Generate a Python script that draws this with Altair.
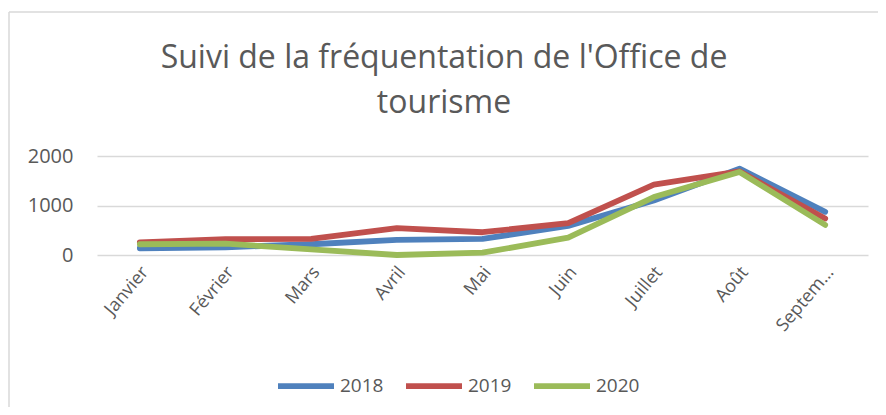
import altair as alt
import pandas as pd

months = ["Janvier", "Février", "Mars", "Avril", "Mai", "Juin", "Juillet", "Août", "Septembre"]
years = ["2018", "2019", "2020"]
v2018 = [136, 156, 217, 304, 325, 588, 1101, 1744, 872]
v2019 = [257, 318, 325, 541, 460, 643, 1420, 1690, 736]
v2020 = [217, 229, 115, 0, 47, 351, 1170, 1677, 608]
colors = ["#4F81BD", "#C0504D", "#9BBB59"]
y_ticks = [0, 1000, 2000]
title_lines = ["Suivi de la fréquentation de l'Office de", "tourisme"]

rows = []
for yr, vals in zip(years, [v2018, v2019, v2020]):
    for m, v in zip(months, vals):
        rows.append({"Mois": m, "Année": yr, "Visiteurs": v})
df = pd.DataFrame(rows)

FONT = "Open Sans"
TXT = "#595959"

lines = alt.Chart(df).mark_line(strokeWidth=5.8, strokeCap="round", strokeJoin="round").encode(
    x=alt.X("Mois:N", sort=months, title=None,
            axis=alt.Axis(labelAngle=-50, labelAlign="right", labelBaseline="middle",
                          labelFontSize=18, labelColor=TXT, labelFont=FONT, labelPadding=14,
                          labelOffset=5, labelLimit=82, ticks=False, domain=False, grid=False)),
    y=alt.Y("Visiteurs:Q", scale=alt.Scale(domain=[0, 2000], nice=False), title=None,
            axis=alt.Axis(values=y_ticks, format="d", ticks=False, domain=False, gridColor="#d9d9d9",
                          gridWidth=1.3, labelFontSize=20, labelColor=TXT, labelPadding=24,
                          labelFont=FONT)),
    color=alt.Color("Année:N", scale=alt.Scale(domain=years, range=colors),
                    legend=alt.Legend(title=None, orient="none", legendX=178, legendY=199,
                                      direction="horizontal", symbolType="stroke",
                                      symbolSize=3136, symbolStrokeWidth=5.8,
                                      labelFontSize=19, labelFont=FONT, labelColor=TXT,
                                      columnPadding=10, labelOffset=3)),
)

one = alt.Data(values=[{}])
border_left = alt.Chart(one).mark_rule(color="#d9d9d9", strokeWidth=1.5).encode(
    x=alt.value(-88), y=alt.value(-144), y2=alt.value(300))
border_top = alt.Chart(one).mark_rule(color="#d9d9d9", strokeWidth=1.5).encode(
    x=alt.value(-88), x2=alt.value(800), y=alt.value(-144))
title = alt.Chart(one).mark_text(font=FONT, fontSize=32, color=TXT, align="center",
                                 baseline="alphabetic", lineHeight=45).encode(
    x=alt.value(347), y=alt.value(-88), text=alt.value(title_lines))

chart = alt.layer(border_left, border_top, title, lines).properties(
    width=771, height=99,
    padding={"left": 89, "top": 148, "right": 10, "bottom": 152},
    autosize="none",
).configure_view(stroke=None)

chart.save("out.html", embed_options={"renderer": "svg", "actions": False})
